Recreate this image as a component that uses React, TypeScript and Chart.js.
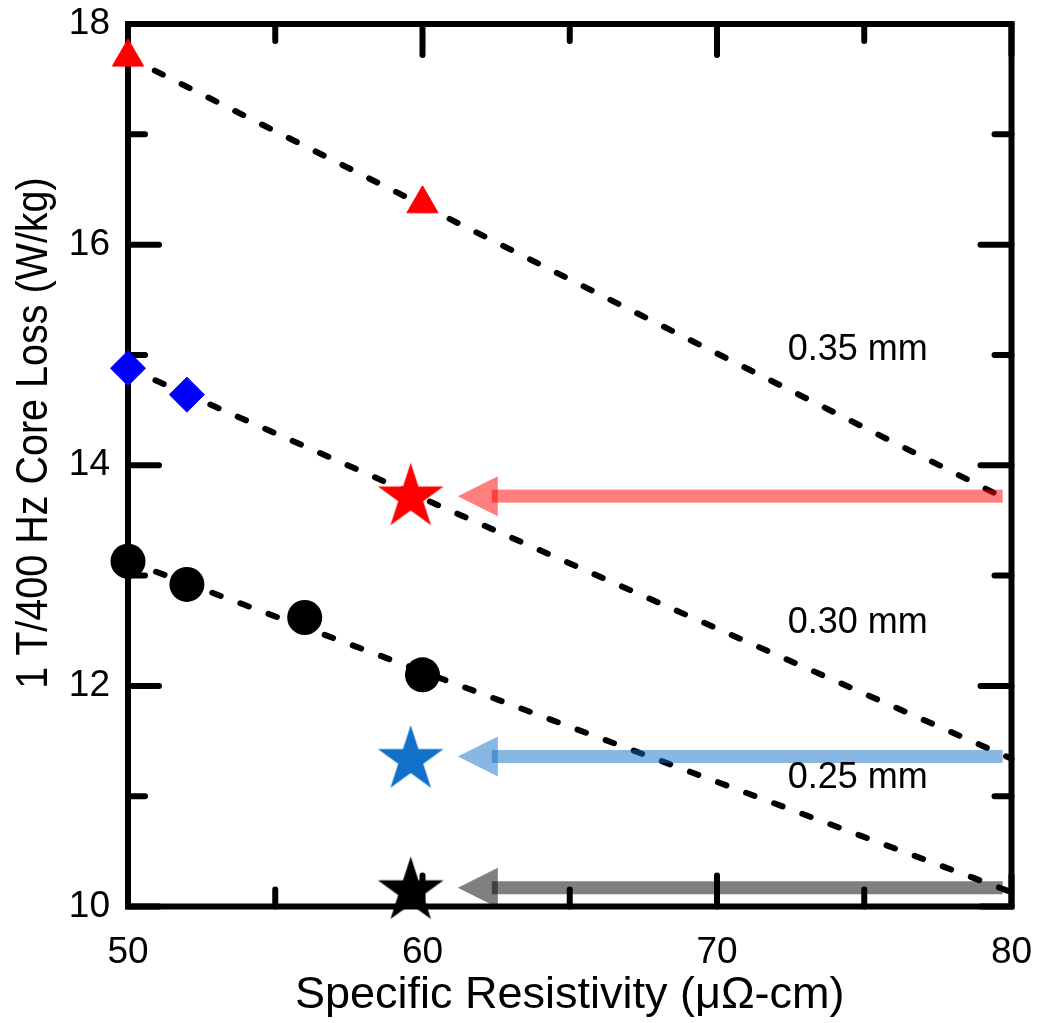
import React, { useEffect, useRef } from 'react';
import { Chart, registerables } from 'chart.js';

Chart.register(...registerables);

// ---------- data ----------
const xMin = 50;
const xMax = 80;
const yMin = 10;
const yMax = 18;
const xMajorTicks = [50, 60, 70, 80];
const xMinorTicks = [55, 65, 75];
const yMajorTicks = [10, 12, 14, 16, 18];
const yMinorTicks = [11, 13, 15, 17];

const triangleX = [50, 60];
const triangleY = [17.7, 16.37];
const diamondX = [50, 52];
const diamondY = [14.88, 14.64];
const circleX = [50, 52, 56, 60];
const circleY = [13.13, 12.92, 12.62, 12.1];
const starX = [59.6, 59.6, 59.6];
const starY = [13.71, 11.33, 10.14];
const starColors = ['#ff0000', '#1170c8', '#000000'];

const fitX = [50, 80];
const fit035 = [17.7, 13.67];
const fit030 = [14.88, 11.34];
const fit025 = [13.13, 10.13];

const arrowY = [13.72, 11.36, 10.17];
const arrowTipX = [61.2, 61.2, 61.2];
const arrowTailX = [79.7, 79.7, 79.7];
const arrowColors = ['rgba(255,0,0,0.5)', 'rgba(17,112,200,0.5)', 'rgba(0,0,0,0.5)'];

const labelTexts = ['0.35 mm', '0.30 mm', '0.25 mm'];
const labelX = [72.4, 72.4, 72.4];
const labelY = [15.04, 12.57, 11.16];

const xTitle = 'Specific Resistivity (\u03bc\u03a9-cm)';
const yTitle = '1 T/400 Hz Core Loss (W/kg)';

const FONT = "'Liberation Sans', Arial, Helvetica, sans-serif";

const toPts = (xs: number[], ys: number[]) => xs.map((x, i) => ({ x, y: ys[i] }));

function makeStar(color: string, R: number): HTMLCanvasElement {
  const c = document.createElement('canvas');
  const size = Math.ceil(2 * R + 4);
  c.width = size;
  c.height = size;
  const ctx = c.getContext('2d')!;
  const cx = size / 2;
  const cy = size / 2;
  const r = R * 0.382;
  ctx.beginPath();
  for (let i = 0; i < 10; i++) {
    const rad = i % 2 === 0 ? R : r;
    const a = -Math.PI / 2 + (i * Math.PI) / 5;
    const px = cx + rad * Math.cos(a);
    const py = cy + rad * Math.sin(a);
    if (i === 0) ctx.moveTo(px, py);
    else ctx.lineTo(px, py);
  }
  ctx.closePath();
  ctx.fillStyle = color;
  ctx.fill();
  return c;
}

const framePlugin = {
  id: 'frameTicks',
  beforeDatasetsDraw(chart: any) {
    const { ctx, chartArea, scales } = chart;
    const xs = scales.x;
    const ys = scales.y;
    const { left, right, top, bottom } = chartArea;
    ctx.save();
    ctx.strokeStyle = '#000';
    ctx.lineWidth = 6;
    ctx.lineCap = 'round';
    const major = 31;
    const minor = 17;
    const drawX = (v: number, len: number) => {
      const px = xs.getPixelForValue(v);
      ctx.beginPath();
      ctx.moveTo(px, bottom);
      ctx.lineTo(px, bottom - len);
      ctx.moveTo(px, top);
      ctx.lineTo(px, top + len);
      ctx.stroke();
    };
    const drawY = (v: number, len: number) => {
      const py = ys.getPixelForValue(v);
      ctx.beginPath();
      ctx.moveTo(left, py);
      ctx.lineTo(left + len, py);
      ctx.moveTo(right, py);
      ctx.lineTo(right - len, py);
      ctx.stroke();
    };
    xMajorTicks.forEach((v) => drawX(v, major));
    xMinorTicks.forEach((v) => drawX(v, minor));
    yMajorTicks.forEach((v) => drawY(v, major));
    yMinorTicks.forEach((v) => drawY(v, minor));
    ctx.lineCap = 'square';
    ctx.lineJoin = 'miter';
    ctx.strokeRect(left, top, right - left, bottom - top);
    ctx.restore();
  },
};

const overlayPlugin = {
  id: 'overlay',
  afterDatasetsDraw(chart: any) {
    const { ctx, scales } = chart;
    const xs = scales.x;
    const ys = scales.y;
    ctx.save();
    const headLen = 40;
    const headHalf = 20;
    const shaftW = 13;
    arrowY.forEach((yv, i) => {
      const yp = ys.getPixelForValue(yv);
      const tip = xs.getPixelForValue(arrowTipX[i]);
      const tail = xs.getPixelForValue(arrowTailX[i]);
      ctx.fillStyle = arrowColors[i];
      const shaftStart = tip + headLen - 6;
      ctx.fillRect(shaftStart, yp - shaftW / 2, tail - shaftStart, shaftW);
      ctx.beginPath();
      ctx.moveTo(tip, yp);
      ctx.lineTo(tip + headLen, yp - headHalf);
      ctx.lineTo(tip + headLen, yp + headHalf);
      ctx.closePath();
      ctx.fill();
    });
    ctx.fillStyle = '#000';
    ctx.font = `36px ${FONT}`;
    ctx.textAlign = 'left';
    ctx.textBaseline = 'middle';
    labelTexts.forEach((t, i) => {
      ctx.fillText(t, xs.getPixelForValue(labelX[i]), ys.getPixelForValue(labelY[i]));
    });
    // y axis title (slightly tall glyphs, placed as in the reference)
    ctx.translate(35, 433);
    ctx.rotate(-Math.PI / 2);
    ctx.scale(1, 1.12);
    ctx.font = `39.5px ${FONT}`;
    ctx.textAlign = 'center';
    ctx.textBaseline = 'middle';
    ctx.fillText(yTitle, 0, 0);
    ctx.restore();
  },
};

export default function App() {
  const ref = useRef<HTMLCanvasElement | null>(null);
  useEffect(() => {
    if (!ref.current) return;
    const stars = starColors.map((c) => makeStar(c, 34.5));
    const fitStyle = {
      type: 'line',
      borderColor: '#000',
      borderWidth: 6,
      borderDash: [9, 21],
      borderCapStyle: 'round',
      pointRadius: 0,
      clip: false,
      order: 5,
    };
    const chart = new Chart(ref.current, {
      type: 'scatter',
      data: {
        datasets: [
          { ...fitStyle, data: toPts(fitX, fit035) } as any,
          { ...fitStyle, data: toPts(fitX, fit030) } as any,
          { ...fitStyle, data: toPts(fitX, fit025) } as any,
          {
            data: toPts(triangleX, triangleY),
            pointStyle: 'triangle',
            pointRadius: 18,
            backgroundColor: '#ff0000',
            borderColor: '#ff0000',
            borderWidth: 1,
            clip: false,
            order: 1,
          },
          {
            data: toPts(diamondX, diamondY),
            pointStyle: 'rectRot',
            pointRadius: 17.5,
            backgroundColor: '#0000ff',
            borderColor: '#0000ff',
            borderWidth: 1,
            clip: false,
            order: 1,
          },
          {
            data: toPts(circleX, circleY),
            pointStyle: 'circle',
            pointRadius: 17.5,
            backgroundColor: '#000',
            borderColor: '#000',
            borderWidth: 0,
            clip: false,
            order: 1,
          },
          {
            data: toPts(starX, starY),
            pointStyle: stars as any,
            pointRadius: 35,
            clip: false,
            order: 1,
          },
        ],
      },
      options: {
        animation: false,
        responsive: false,
        events: [],
        layout: { autoPadding: false, padding: { left: 0, top: 24, right: 26.5, bottom: 0 } },
        plugins: {
          legend: { display: false },
          tooltip: { enabled: false },
        },
        scales: {
          x: {
            type: 'linear',
            min: xMin,
            max: xMax,
            grid: { display: false, drawTicks: false },
            border: { display: false },
            ticks: {
              stepSize: 5,
              padding: 24,
              color: '#000',
              font: { size: 37, family: FONT },
              maxRotation: 0,
              callback: (v: any) => (Number(v) % 10 === 0 ? String(v) : ''),
            },
            title: {
              display: true,
              text: xTitle,
              color: '#000',
              font: { size: 45, family: FONT },
              padding: { top: 0, bottom: 0 },
            },
            afterFit: (s: any) => {
              s.height = 116.5;
              s.paddingLeft = 0;
              s.paddingRight = 0;
              s.paddingTop = 0;
              s.paddingBottom = 0;
            },
          },
          y: {
            type: 'linear',
            min: yMin,
            max: yMax,
            grid: { display: false, drawTicks: false },
            border: { display: false },
            ticks: {
              stepSize: 1,
              padding: 18,
              color: '#000',
              font: { size: 37, family: FONT },
              callback: (v: any) => (Number(v) % 2 === 0 ? String(v) : ''),
            },
            title: { display: false, text: yTitle },
            afterFit: (s: any) => {
              s.width = 128;
              s.paddingLeft = 0;
              s.paddingRight = 0;
              s.paddingTop = 0;
              s.paddingBottom = 0;
            },
          },
        },
      } as any,
      plugins: [framePlugin, overlayPlugin],
    });
    return () => chart.destroy();
  }, []);
  return (
    <div style={{ position: 'absolute', left: 0, top: 0, width: 1038, height: 1023, background: '#fff' }}>
      <canvas ref={ref} width={1038} height={1023} style={{ display: 'block' }} />
    </div>
  );
}
